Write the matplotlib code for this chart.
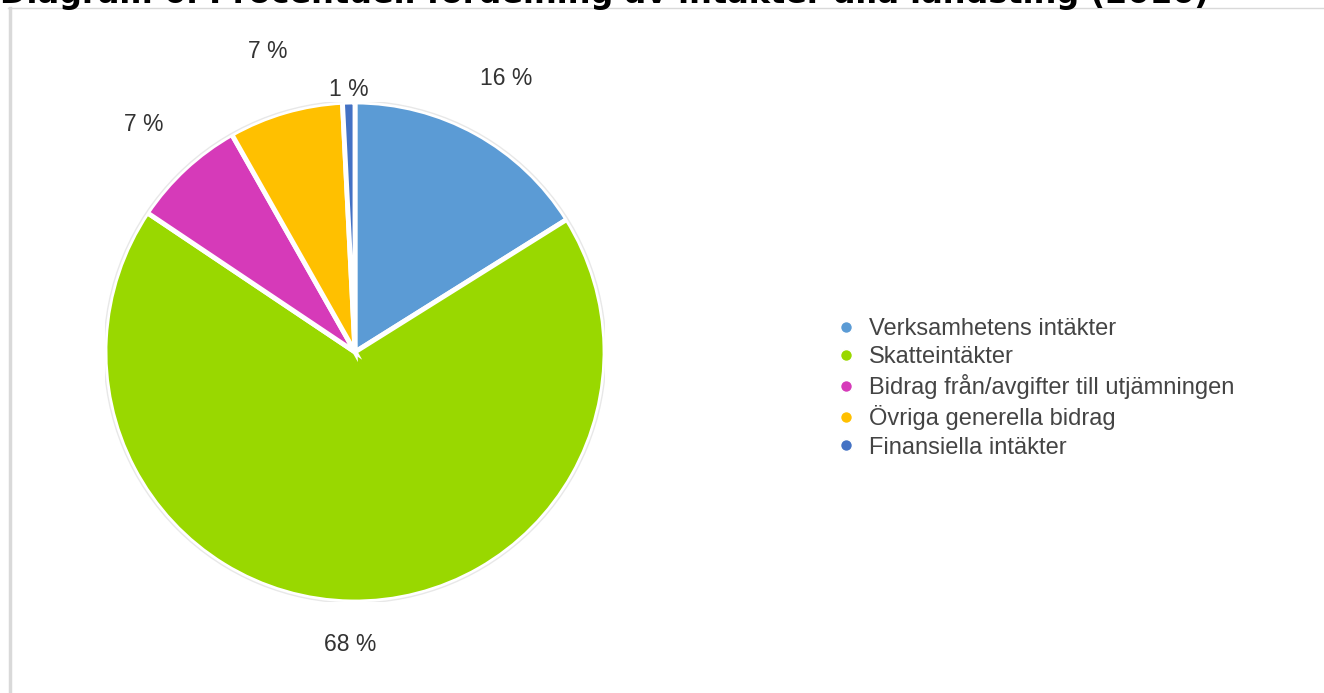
import matplotlib
matplotlib.use("Agg")
import matplotlib.pyplot as plt
import numpy as np
from matplotlib.lines import Line2D

categories = ["Verksamhetens intäkter", "Skatteintäkter",
              "Bidrag från/avgifter till utjämningen",
              "Övriga generella bidrag", "Finansiella intäkter"]
values = [16.1, 68.3, 7.4, 7.4, 0.8]
labels = ["16 %", "68 %", "7 %", "7 %", "1 %"]
colors = ["#5B9BD5", "#99D800", "#D63AB9", "#FFC000", "#4472C4"]
label_dist = [1.25, 1.17, 1.24, 1.25, 1.05]
title = "Diagram 6. Procentuell fördelning av intäkter alla landsting (2016)"

W, H = 1324, 693
fig = plt.figure(figsize=(W / 100, H / 100), dpi=100)
fig.patch.set_facecolor("white")

# frame lines
fig.add_artist(Line2D([9.5 / W, 9.5 / W], [0, 1 - 8 / H], transform=fig.transFigure,
                      color="#d9d9d9", lw=2.5))
fig.add_artist(Line2D([8 / W, 1], [1 - 8 / H, 1 - 8 / H], transform=fig.transFigure,
                      color="#d9d9d9", lw=1))

fig.text(0, 1 - 3 / H, title, fontsize=23, fontweight="bold",
         family="DejaVu Sans", color="black", ha="left", va="baseline")

# pie axes: center (355,352), radius 250
cx, cy, r = 355, 352, 250
ax = fig.add_axes([(cx - r) / W, (H - cy - r) / H, 2 * r / W, 2 * r / H])
wedges, _ = ax.pie(values, colors=colors, startangle=90, counterclock=False,
                   radius=1.0,
                   wedgeprops=dict(edgecolor="white", linewidth=3.5))
ax.set_xlim(-1, 1)
ax.set_ylim(-1, 1)
ax.set_aspect("equal")
ax.axis("off")

# outer faint outline
circle = plt.Circle((0, 0), 1.004, fill=False, edgecolor="#e8e8e8", lw=1)
ax.add_patch(circle)

tot = sum(values)
start = 90.0
for v, lab, d in zip(values, labels, label_dist):
    mid = start - v / tot * 360 / 2
    start -= v / tot * 360
    a = np.deg2rad(mid)
    ax.text(d * np.cos(a), d * np.sin(a), lab, ha="center", va="center",
            fontsize=16.5, family="Liberation Sans", color="#333333", clip_on=False)

handles = [Line2D([], [], marker="o", linestyle="", markersize=8.5,
                  markerfacecolor=c, markeredgecolor="white", markeredgewidth=1)
           for c in colors]
fig.legend(handles, categories, loc="upper left",
           bbox_to_anchor=(835 / W, 1 - 318 / H), frameon=False,
           prop=dict(family="Liberation Sans", size=17), labelcolor="#444444",
           handletextpad=0.55, labelspacing=0.26, handlelength=0.9,
           borderpad=0, borderaxespad=0)

fig.savefig("out.png", dpi=100)
